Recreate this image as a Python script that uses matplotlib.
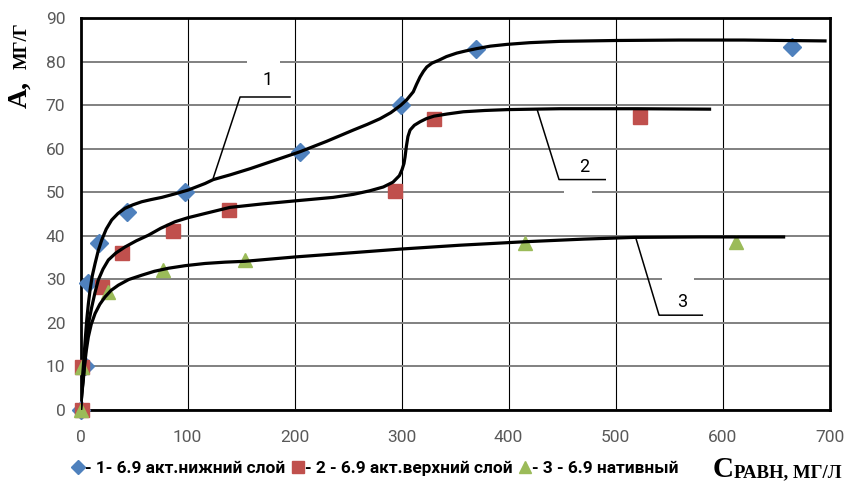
import matplotlib
matplotlib.use('Agg')
import matplotlib.pyplot as plt
from matplotlib.lines import Line2D
from matplotlib.patches import Rectangle

# точки эксперимента
x1 = [0, 4, 7.3, 17.3, 43.2, 97.7, 205.1, 299.3, 369.6, 664.8]
y1 = [0, 10, 29.0, 38.2, 45.5, 50.1, 59.3, 70.0, 83.0, 83.3]
x2 = [1, 1, 19.8, 38.5, 86.8, 139, 294.2, 330.4, 523.1]
y2 = [0, 9.8, 28.2, 36.0, 41.1, 46.0, 50.2, 66.8, 67.3]
x3 = [0, 1.7, 25.4, 76.8, 153.7, 415.4, 613]
y3 = [0, 9.8, 27.1, 32.2, 34.4, 38.2, 38.6]

# аппроксимирующие кривые
c1x = [0, 1.2, 2.6, 4.2, 5.8, 7.3, 8.9, 11, 13.6, 16.5, 19.8, 24, 29.1, 35, 41.6, 49, 57.2,
       66, 75.9, 88, 100.7, 116.4, 124.1, 140, 158.4, 180, 205.1, 230, 255, 268, 279.9,
       290, 299.3, 305, 311, 314, 317.3, 320.5, 323.6, 328.5, 334.4, 342, 351.6, 360,
       369.6, 383, 398.3, 420, 448.1, 500.8, 560, 620, 695.8]
c1y = [0, 5.5, 9.8, 15.5, 20.6, 24.3, 27.5, 30.8, 33.6, 36.5, 39, 41.5, 43.6, 45.1, 46.3,
       47.1, 47.8, 48.3, 48.8, 49.6, 50.5, 52.0, 52.9, 54.0, 55.4, 57.2, 59.3, 61.7, 64.3,
       65.6, 66.9, 68.3, 70.0, 71.3, 73.1, 74.8, 76.5, 77.8, 78.8, 79.7, 80.3, 81.2, 82.0,
       82.5, 83.0, 83.6, 84.0, 84.4, 84.7, 84.9, 85.0, 85.0, 84.8]
c2x = [0, 1.2, 2.6, 4.2, 5.8, 8, 10.5, 13.5, 16.6, 21, 26, 33, 41.6, 52, 63.4, 75, 88.3,
       100, 116.4, 139.7, 170, 200.5, 236, 255, 270, 283, 292, 298, 300.5, 302.3,
       303.3, 304.5, 306, 308, 312, 317.3, 323, 330.4, 343, 357.8, 378, 399.3, 448, 520,
       587.9]
c2y = [0, 3.5, 6.8, 12.0, 16.7, 20.5, 23.6, 26.9, 29.8, 32.3, 34.4, 36.0, 37.4, 38.8,
       40.1, 41.7, 43.2, 44.1, 45.1, 46.5, 47.3, 48.0, 48.8, 49.5, 50.3, 51.2, 52.3, 53.8,
       55.2, 56.6, 58.1, 60.5, 62.8, 64.3, 65.4, 66.2, 66.9, 67.5, 68.0, 68.5, 68.8, 69.0,
       69.2, 69.2, 69.1]
c3x = [0, 1.8, 3.6, 5.4, 7.3, 10, 13.6, 18, 22.9, 28.5, 35.3, 45, 57.2, 69, 82.1, 98,
       116.4, 135, 153.7, 200.5, 250, 298.6, 354.7, 415.4, 470, 517.8, 580, 657.1]
c3y = [0, 5.3, 9.8, 13.6, 16.7, 19.6, 22.1, 24.2, 25.9, 27.4, 28.6, 29.9, 30.9, 31.8,
       32.5, 33.1, 33.6, 33.9, 34.1, 35.1, 36.0, 36.9, 37.8, 38.6, 39.2, 39.6, 39.7, 39.7]

# выноски: (линия x, линия y, текст x, текст y, надпись)
leaders = [
    ([124.1, 149.1, 195.8], [53.3, 71.9, 71.9], 175.2, 75.7, '1'),
    ([426.9, 447.2, 490.4], [68.9, 52.9, 52.9], 470.7, 55.8, '2'),
    ([518.8, 540.7, 581.1], [39.6, 21.7, 21.7], 562.3, 24.8, '3'),
]
gaps = [(155.6, 186.4, 80), (451.9, 478.0, 50), (543.0, 573.4, 30)]

labels = ['- 1- 6.9 акт.нижний слой', '- 2 - 6.9 акт.верхний слой', '- 3 - 6.9 нативный']
colors = ['#4F81BD', '#C0504D', '#9BBB59']

sans = ['Roboto', 'DejaVu Sans']
serif = ['Liberation Serif', 'DejaVu Serif']

fig = plt.figure(figsize=(8.46, 4.86), dpi=100)
ax = fig.add_axes([0.0952, 0.1574, 0.8853, 0.8049])

ax.plot(x1, y1, 'D', color=colors[0], ms=9, ls='none', zorder=3, clip_on=False)
ax.plot(x2, y2, 's', color=colors[1], ms=10, ls='none', zorder=3, clip_on=False)
ax.plot(x3, y3, '^', color=colors[2], ms=10, ls='none', zorder=3, clip_on=False)

for cx, cy in [(c1x, c1y), (c2x, c2y), (c3x, c3y)]:
    ax.plot(cx, cy, color='black', lw=2.3, solid_joinstyle='round', zorder=4)

for gx0, gx1, gy in gaps:
    ax.add_patch(Rectangle((gx0, gy - 0.6), gx1 - gx0, 1.2, color='white', lw=0, zorder=1.5))

for lx, ly, tx, ty, t in leaders:
    ax.plot(lx, ly, color='black', lw=1.1, zorder=5)
    ax.text(tx, ty, t, ha='center', va='center', fontsize=13, family=sans, zorder=5)

ax.set_xlim(0, 700)
ax.set_ylim(0, 90)
ax.set_xticks(range(0, 701, 100))
ax.set_yticks(range(0, 91, 10))
ax.set_axisbelow(True)
ax.yaxis.grid(True, color='#808080', lw=1.4)
ax.xaxis.grid(True, color='black', lw=0.8)
for s in ax.spines.values():
    s.set_linewidth(2)
    s.set_color('black')
ax.tick_params(length=0, labelsize=12.5, labelcolor='#595959')
ax.tick_params(axis='x', pad=15)
ax.tick_params(axis='y', pad=11)
for lab in ax.get_xticklabels() + ax.get_yticklabels():
    lab.set_family(sans)

handles = [Line2D([], [], marker=m, color=c, ls='none', ms=ms)
           for m, c, ms in zip(['D', 's', '^'], colors, [7, 9, 9])]
fig.legend(handles, labels, loc='center left', bbox_to_anchor=(0.086, 0.037), ncol=3,
           frameon=False, handlelength=0.6, handletextpad=0.1, columnspacing=0.45,
           borderaxespad=0, borderpad=0,
           prop={'family': sans, 'weight': 'bold', 'size': 12.4})

# подписи осей
fig.text(0.031, 0.805, 'А,', rotation=90, rotation_mode='anchor', ha='center',
         va='baseline', family=serif, weight='bold', fontsize=20)
fig.text(0.031, 0.907, 'МГ/Г', rotation=90, rotation_mode='anchor', ha='center',
         va='baseline', family=serif, weight='bold', fontsize=13.5)
fig.text(0.842, 0.019, 'С', ha='left', va='baseline', family=serif, weight='bold',
         fontsize=21)
fig.text(0.868, 0.019, 'РАВН, МГ/Л', ha='left', va='baseline', family=serif,
         weight='bold', fontsize=13.5)

fig.savefig('out.png', dpi=100)
